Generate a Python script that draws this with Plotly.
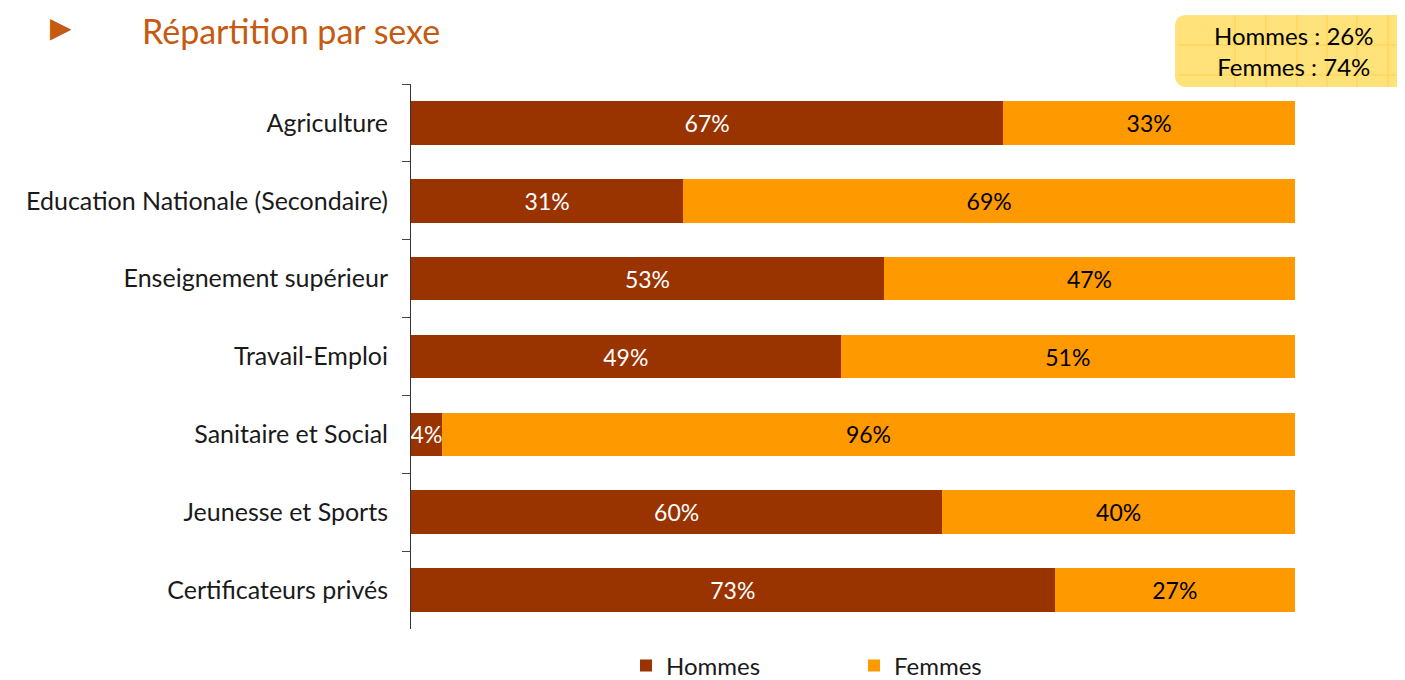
import plotly.graph_objects as go

categories = ["Agriculture", "Education Nationale (Secondaire)", "Enseignement supérieur",
              "Travail-Emploi", "Sanitaire et Social", "Jeunesse et Sports", "Certificateurs privés"]
hommes = [67.0, 30.8, 53.5, 48.6, 3.5, 60.1, 72.8]
femmes = [33.0, 69.2, 46.5, 51.4, 96.5, 39.9, 27.2]
hommes_labels = ["67%", "31%", "53%", "49%", "4%", "60%", "73%"]
femmes_labels = ["33%", "69%", "47%", "51%", "96%", "40%", "27%"]
total_labels = ["Hommes : 26%", "Femmes : 74%"]

FONT = "Lato"
OFF = 8  # page body margin
W, H = 1405 - OFF, 680 - OFF
L, T = 411 - OFF, 84 - OFF
PW, PH = 884, 545
R, B = W - L - PW, H - T - PH


def px(X):
    return (X - 411) / PW


def py(Y):
    return 1 - (Y - 84) / PH


fig = go.Figure()
fig.add_trace(go.Bar(
    y=categories, x=hommes, orientation="h", name="Hommes",
    marker=dict(color="#993300", line=dict(width=0)),
    text=hommes_labels, textposition="inside", insidetextanchor="middle",
    constraintext="none", textangle=0,
    textfont=dict(color="white", size=23, family=FONT), hoverinfo="skip",
))
fig.add_trace(go.Bar(
    y=categories, x=femmes, orientation="h", name="Femmes",
    marker=dict(color="#FF9900", line=dict(width=0)),
    text=femmes_labels, textposition="inside", insidetextanchor="middle",
    constraintext="none", textangle=0,
    textfont=dict(color="black", size=23, family=FONT), hoverinfo="skip",
))

fig.update_layout(
    width=W, height=H, barmode="stack", bargap=0.44,
    margin=dict(l=L, r=R, t=T, b=B, autoexpand=False),
    plot_bgcolor="white", paper_bgcolor="white",
    font=dict(family=FONT, size=20, color="#1a1a1a"),
    xaxis=dict(range=[0, 100], visible=False, fixedrange=True),
    yaxis=dict(autorange="reversed", showline=True, linecolor="#333333", linewidth=1,
               ticks="outside", ticklen=8, tickcolor="#444444", tickson="boundaries",
               tickfont=dict(size=25, family=FONT, color="#1a1a1a"), ticklabelstandoff=17),
    legend=dict(orientation="h", traceorder="normal",
                x=px(626), xanchor="left", y=py(666), yanchor="middle",
                entrywidth=183, font=dict(size=24, family=FONT, color="#1a1a1a"),
                bgcolor="rgba(0,0,0,0)"),
    showlegend=True,
)

# Title with arrow
fig.add_annotation(xref="paper", yref="paper", x=px(48), y=py(27),
                   text="▶", showarrow=False, xanchor="left", yanchor="middle",
                   font=dict(size=28, color="#C55A11", family="DejaVu Sans"))
fig.add_annotation(xref="paper", yref="paper", x=px(141), y=py(OFF + 1),
                   text="Répartition par sexe", showarrow=False, xanchor="left", yanchor="top",
                   borderpad=0, font=dict(size=34, color="#C55A11", family=FONT))

# Summary box (rounded)
x0, x1 = px(1175), px(1420)
y0, y1 = py(87), py(15)
rx, ry = 12 / PW, 12 / PH
path = (f"M {x0+rx},{y1} L {x1},{y1} L {x1},{y0} L {x0+rx},{y0} "
        f"Q {x0},{y0} {x0},{y0+ry} L {x0},{y1-ry} Q {x0},{y1} {x0+rx},{y1} Z")
fig.add_shape(type="path", path=path, xref="paper", yref="paper",
              fillcolor="#FFE27A", line=dict(width=0), layer="below")
for gx in [1235, 1266, 1297, 1327, 1357, 1388]:
    fig.add_shape(type="line", xref="paper", yref="paper", x0=px(gx), x1=px(gx),
                  y0=y0, y1=y1, line=dict(color="#FFD34D", width=1), layer="below")
for gy in [45, 75]:
    fig.add_shape(type="line", xref="paper", yref="paper", x0=px(1178), x1=x1,
                  y0=py(gy), y1=py(gy), line=dict(color="#FFD34D", width=1), layer="below")
fig.add_annotation(xref="paper", yref="paper", x=px(1293), y=py(51),
                   text="<br>".join(total_labels), showarrow=False,
                   xanchor="center", yanchor="middle", align="center",
                   font=dict(size=24, color="black", family=FONT))

fig.write_html("out.html")
